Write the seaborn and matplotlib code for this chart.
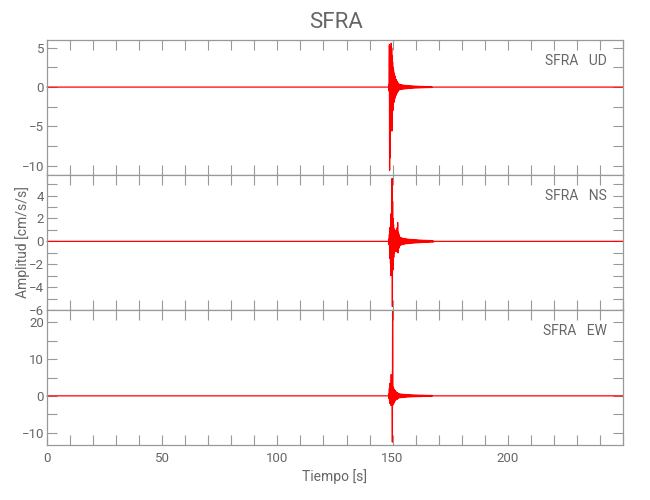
import numpy as np
import pandas as pd
import matplotlib
matplotlib.use("Agg")
import matplotlib.pyplot as plt
from matplotlib.ticker import MultipleLocator
import seaborn as sns

# ---------------- data ----------------
station = "SFRA"
components = ["UD", "NS", "EW"]
x_ticks = [0, 50, 100, 150, 200]
x_range = [0, 250]

# sampling of the strong-motion part
head_start, head_dt = 148.4, 0.1
tail_dt = 0.25

ud_head = [0.3, -0.5, 5.4, -10.6, 5.2, -9.0, 4.0, -4.5, 3.0, -2.5,
           5.6, -3.5, 5.0, -5.6, 4.0, -4.2, 3.2, -3.0, 2.5, -2.6,
           2.2, -2.0, 1.8, -1.8, 1.6, -1.5, 1.4, -1.3, 1.2, -1.1,
           1.0, -1.0, 0.9, -0.85, 0.8, -0.75, 0.7, -0.65, 0.6, -0.55]
ud_tail = [0.45, -0.4, 0.38, -0.35, 0.33, -0.3, 0.3, -0.28, 0.27, -0.26,
           0.25, -0.24, 0.23, -0.22, 0.22, -0.21, 0.2, -0.2, 0.19, -0.18,
           0.18, -0.17, 0.17, -0.16, 0.16, -0.15, 0.15, -0.14, 0.14, -0.13,
           0.13, -0.13, 0.12, -0.12, 0.12, -0.11, 0.11, -0.11, 0.1, -0.1,
           0.1, -0.1, 0.09, -0.09, 0.09, -0.09, 0.08, -0.08, 0.08, -0.08,
           0.08, -0.07, 0.07, -0.07, 0.07, -0.07, 0.06, -0.06, 0.06, -0.06]

ns_head = [0.2, -0.3, 0.6, -0.8, 1.2, -1.5, 1.0, -2.0, 2.4, -3.0,
           1.5, -1.2, 1.3, -2.0, 5.5, -5.7, 3.5, -2.5, 2.0, -2.2,
           1.5, -1.4, 1.1, -1.0, 1.0, -0.9, 0.9, -0.8, 0.8, -0.8,
           0.9, -0.9, 1.0, -0.8, 0.9, -0.8, 1.2, -0.9, 1.65, -1.0,
           0.8, -0.7, 0.7, -0.6, 0.55, -0.5]
ns_tail = [0.4, -0.38, 0.35, -0.32, 0.3, -0.28, 0.27, -0.26, 0.25, -0.24,
           0.23, -0.22, 0.22, -0.21, 0.2, -0.2, 0.19, -0.19, 0.18, -0.18,
           0.17, -0.17, 0.16, -0.16, 0.16, -0.15, 0.15, -0.15, 0.14, -0.14,
           0.14, -0.13, 0.13, -0.13, 0.12, -0.12, 0.12, -0.11, 0.11, -0.11,
           0.1, -0.1, 0.1, -0.1, 0.1, -0.09, 0.09, -0.09, 0.09, -0.09,
           0.08, -0.08, 0.08, -0.08, 0.08, -0.07, 0.07, -0.07, 0.07, -0.07]

ew_head = [0.5, -0.8, 2.0, -1.5, 3.4, -2.1, 2.5, -2.0, 3.0, -2.6,
           5.8, -2.5, 3.0, -2.2, 2.5, -12.6, 23.3, -2.5, 2.4, -2.2,
           2.2, -2.0, 1.8, -1.7, 1.6, -1.5, 1.4, -1.3, 1.3, -1.2,
           1.1, -1.0, 1.0, -0.95, 0.9, -0.9, 0.85, -0.8, 0.8, -0.75]
ew_tail = [0.65, -0.6, 0.58, -0.55, 0.52, -0.5, 0.48, -0.46, 0.45, -0.43,
           0.42, -0.4, 0.39, -0.38, 0.37, -0.36, 0.35, -0.34, 0.33, -0.32,
           0.31, -0.3, 0.3, -0.29, 0.28, -0.27, 0.27, -0.26, 0.25, -0.25,
           0.24, -0.24, 0.23, -0.23, 0.22, -0.22, 0.21, -0.21, 0.2, -0.2,
           0.2, -0.19, 0.19, -0.18, 0.18, -0.18, 0.17, -0.17, 0.17, -0.16,
           0.16, -0.16, 0.15, -0.15, 0.15, -0.15, 0.14, -0.14, 0.14, -0.14]

heads = {"UD": ud_head, "NS": ns_head, "EW": ew_head}
tails = {"UD": ud_tail, "NS": ns_tail, "EW": ew_tail}

y_limits = {"UD": (-11.2, 6.0), "NS": (-6.0, 5.8), "EW": (-13.4, 23.4)}
y_major = {"UD": 5, "NS": 2, "EW": 10}
y_minor = {"UD": 2.5, "NS": 1, "EW": 5}

# ---------------- build long table ----------------
rows = []
for comp in components:
    h = heads[comp]
    tl = tails[comp]
    th = [head_start + head_dt * i for i in range(len(h))]
    tail_start = th[-1] + head_dt
    tt = [tail_start + tail_dt * i for i in range(len(tl))]
    times = [x_range[0], head_start - head_dt] + th + tt + [tt[-1] + tail_dt, x_range[1]]
    vals = [0.0, 0.0] + h + tl + [0.0, 0.0]
    for t, v in zip(times, vals):
        rows.append({"t": t, "v": v, "comp": comp})
df = pd.DataFrame(rows)

# ---------------- style ----------------
sns.set_theme(style="white")
plt.rcParams["font.family"] = ["Roboto", "DejaVu Sans"]
plt.rcParams["axes.unicode_minus"] = True

txt_color = "#666666"
spine_color = "#999999"

fig = plt.figure(figsize=(6.5, 5.0), dpi=100)
W, H = 650.0, 500.0
left, right = 47 / W, 623 / W
panel_px = [(40, 175), (175, 310), (310, 445)]

axes = []
for comp, (top, bot) in zip(components, panel_px):
    ax = fig.add_axes([left, 1 - bot / H, right - left, (bot - top) / H])
    sub = df[df["comp"] == comp]
    sns.lineplot(data=sub, x="t", y="v", ax=ax, color="red", linewidth=0.9,
                 estimator=None, sort=False, legend=False)
    for ln in ax.lines:
        ln.set_clip_on(False)
    ax.set_xlim(*x_range)
    ax.set_ylim(*y_limits[comp])
    ax.xaxis.set_major_locator(MultipleLocator(50))
    ax.xaxis.set_minor_locator(MultipleLocator(10))
    ax.yaxis.set_major_locator(MultipleLocator(y_major[comp]))
    ax.yaxis.set_minor_locator(MultipleLocator(y_minor[comp]))
    ax.tick_params(which="both", direction="in", length=7.5, width=0.8,
                   color=spine_color, top=True, right=True, bottom=True, left=True,
                   labelsize=9.5, labelcolor=txt_color, pad=2)
    ax.tick_params(axis="x", labelbottom=(comp == "EW"), pad=5)
    for s in ax.spines.values():
        s.set_color(spine_color)
        s.set_linewidth(0.9)
    ax.set_xlabel("")
    ax.set_ylabel("")
    ax.text(0.972, 1 - 21 / (bot - top), f"{station}   {comp}", transform=ax.transAxes,
            ha="right", va="center", fontsize=10, color=txt_color)
    axes.append(ax)

axes[-1].set_xticks(x_ticks)
axes[-1].set_xlabel("Tiempo [s]", fontsize=10, color=txt_color, labelpad=3)

fig.text(23 / W, 1 - 242 / H, "Amplitud [cm/s/s]", rotation=90, ha="center", va="center",
         fontsize=10, color=txt_color)
fig.text(336 / W, 1 - 22 / H, station, ha="center", va="center", fontsize=16,
         color=txt_color)

fig.savefig("out.png", dpi=100)
